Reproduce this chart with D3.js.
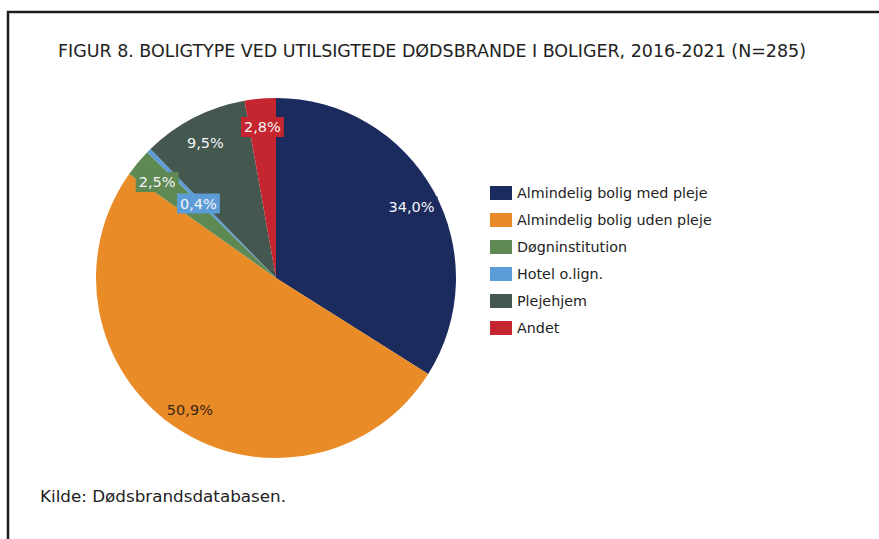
<!DOCTYPE html>
<html><head><meta charset="utf-8">
<script src="https://cdn.jsdelivr.net/npm/d3@7"></script>
<style>
html,body{margin:0;padding:0;background:#fff;}
svg{display:block;}
</style></head>
<body>
<svg id="chart" width="879" height="539"></svg>
<script>
// ---- data ----
const categories = ["Almindelig bolig med pleje","Almindelig bolig uden pleje","Døgninstitution","Hotel o.lign.","Plejehjem","Andet"];
const values = [34.0, 50.9, 2.5, 0.4, 9.5, 2.8];
const title = "FIGUR 8. BOLIGTYPE VED UTILSIGTEDE DØDSBRANDE I BOLIGER, 2016-2021 (N=285)";
const source = "Kilde: Dødsbrandsdatabasen.";
// ---- styles ----
const colors = ["#1b2b5e","#e98b27","#5f8953","#5c9dd8","#44584f","#c5252e"];
const labelInk = ["#f4f4f8","#3a2614","#f4f4f8","#f4f4f8","#f4f4f8","#f4f4f8"];

const svg = d3.select("#chart");
const W = 879, H = 539;

// frame
svg.append("path")
  .attr("d", `M${W+5},12 L8,12 L8,${H+5}`)
  .attr("fill","none").attr("stroke","#1e1e1e").attr("stroke-width",2.5);

// title
svg.append("text")
  .attr("x",58).attr("y",57)
  .attr("font-family","'Liberation Sans Narrow','DejaVu Sans Condensed','Liberation Sans',sans-serif")
  .attr("font-size",18.5).attr("fill","#222")
  .attr("textLength",748).attr("lengthAdjust","spacingAndGlyphs")
  .text(title);

// source
svg.append("text")
  .attr("x",40).attr("y",502)
  .attr("font-family","'Liberation Sans Narrow','DejaVu Sans Condensed','Liberation Sans',sans-serif")
  .attr("font-size",16).attr("fill","#222")
  .attr("textLength",246).attr("lengthAdjust","spacingAndGlyphs")
  .text(source);

// pie
const cx = 276, cy = 278, R = 180;
const pie = d3.pie().sort(null).value(d => d)(values);
const arc = d3.arc().innerRadius(0).outerRadius(R);
const g = svg.append("g").attr("transform",`translate(${cx},${cy})`);
g.selectAll("path.slice").data(pie).join("path")
  .attr("class","slice")
  .attr("d",arc)
  .attr("fill",(d,i)=>colors[i]);

// labels
const fmt = v => d3.format(".1f")(v).replace(".",",") + "%";
const labelArcBig = d3.arc().innerRadius(R*0.86).outerRadius(R*0.86);
const labelArcSmall = d3.arc().innerRadius(R*0.61).outerRadius(R*0.61);
const lg = g.append("g");
pie.forEach((d,i)=>{
  const a = (d.value < 1 ? labelArcSmall : labelArcBig).centroid(d);
  const grp = lg.append("g").attr("transform",`translate(${a[0]},${a[1]+3})`);
  const rect = grp.append("rect").attr("fill",colors[i]);
  const t = grp.append("text")
    .attr("text-anchor","middle").attr("dy","0.36em")
    .attr("font-family","'DejaVu Sans',Verdana,sans-serif")
    .attr("font-size",14.5)
    .attr("fill",labelInk[i])
    .text(fmt(values[i]));
  const bb = t.node().getBBox();
  rect.attr("x",bb.x-3).attr("y",bb.y-2).attr("width",bb.width+6).attr("height",bb.height+4);
});

// legend
const lx = 490, ly0 = 193, step = 27;
const leg = svg.append("g");
categories.forEach((c,i)=>{
  const y = ly0 + i*step;
  leg.append("rect").attr("x",lx).attr("y",y-7).attr("width",22).attr("height",14).attr("fill",colors[i]);
  leg.append("text").attr("x",lx+27).attr("y",y).attr("dy","0.35em")
    .attr("font-family","'DejaVu Sans',Verdana,sans-serif")
    .attr("font-size",14.3).attr("fill","#222")
    .text(c);
});
</script>
</body></html>
